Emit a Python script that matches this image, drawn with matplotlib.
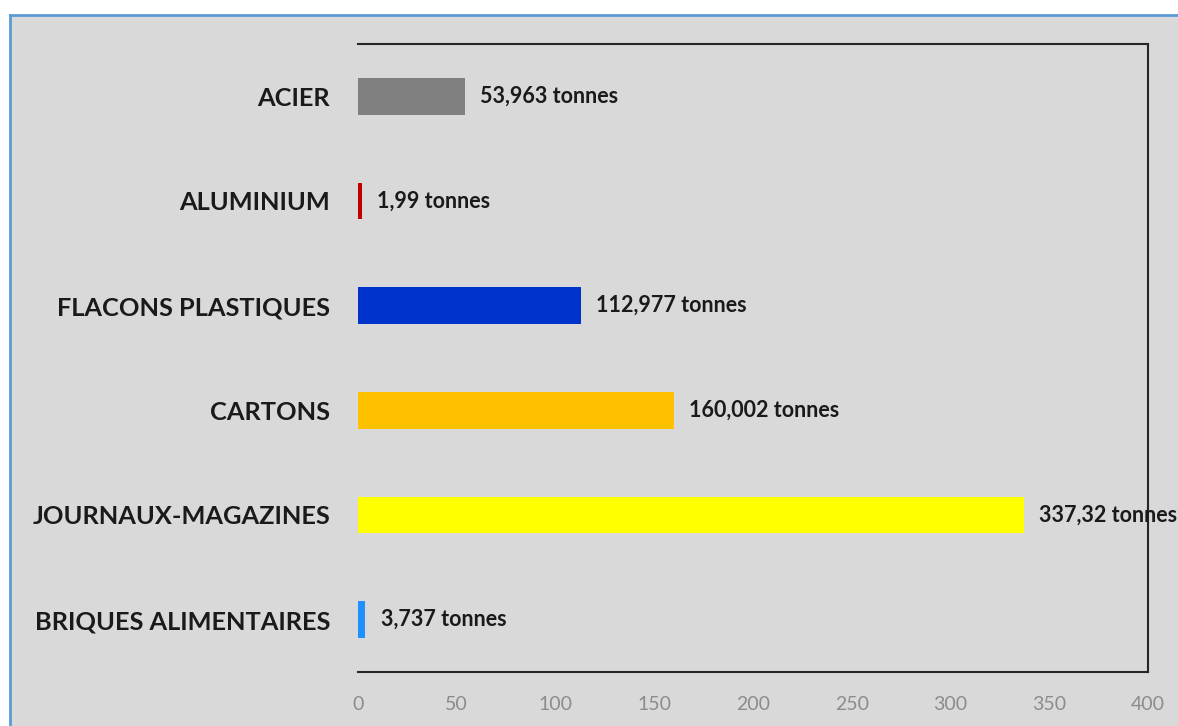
import matplotlib.pyplot as plt
from matplotlib.patches import Rectangle

categories = ['ACIER', 'ALUMINIUM', 'FLACONS PLASTIQUES', 'CARTONS',
              'JOURNAUX-MAGAZINES', 'BRIQUES ALIMENTAIRES']
values = [53.963, 1.99, 112.977, 160.002, 337.32, 3.737]
value_labels = ['53,963 tonnes', '1,99 tonnes', '112,977 tonnes',
                '160,002 tonnes', '337,32 tonnes', '3,737 tonnes']
colors = ['#808080', '#c00000', '#0033cc', '#ffc000', '#ffff00', '#1e90ff']
xticks = [0, 50, 100, 150, 200, 250, 300, 350, 400]

plt.rcParams['font.family'] = ['Lato', 'DejaVu Sans']

fig = plt.figure(figsize=(11.78, 7.26), dpi=100)
fig.patch.set_facecolor('white')

# grey chart area with the blue frame on top/left
W, H = 1178, 726
bg = Rectangle((10 / W, 0), 1 - 10 / W, 1 - 15 / H, transform=fig.transFigure,
               facecolor='#d9d9d9', edgecolor='none', zorder=-10)
fig.add_artist(bg)
fig.add_artist(plt.Line2D([10 / W, 1], [1 - 15 / H, 1 - 15 / H], transform=fig.transFigure,
                          color='#5b9bd5', lw=2, zorder=-9))
fig.add_artist(plt.Line2D([10 / W, 10 / W], [0, 1 - 15 / H], transform=fig.transFigure,
                          color='#5b9bd5', lw=2, zorder=-9))

ax = fig.add_axes([358 / W, 1 - 672 / H, (1148 - 358) / W, (672 - 44) / H])
ax.set_facecolor('#d9d9d9')

y = list(range(len(categories)))
ax.barh(y, values, height=0.35, color=colors)

for yi, v, lab in zip(y, values, value_labels):
    ax.annotate(lab, (v, yi), xytext=(11, 0), textcoords='offset points',
                va='center', ha='left', fontsize=15.5, fontweight='bold',
                color='#1a1a1a', annotation_clip=False, clip_on=False)

ax.set_xlim(0, 400)
ax.set_ylim(5.5, -0.5)
ax.set_xticks(xticks)
ax.set_xticklabels([str(t) for t in xticks], color='#8c8c8c', fontsize=14)
ax.set_yticks(y)
ax.set_yticklabels(categories, fontsize=18.3, fontweight='bold', color='#1a1a1a')
ax.tick_params(axis='both', length=0)
ax.tick_params(axis='y', pad=20)
ax.tick_params(axis='x', pad=17)

ax.spines['left'].set_visible(False)
for s in ['top', 'right', 'bottom']:
    ax.spines[s].set_color('#262626')
    ax.spines[s].set_linewidth(1.5)

fig.savefig('out.png', dpi=100, facecolor=fig.get_facecolor())
